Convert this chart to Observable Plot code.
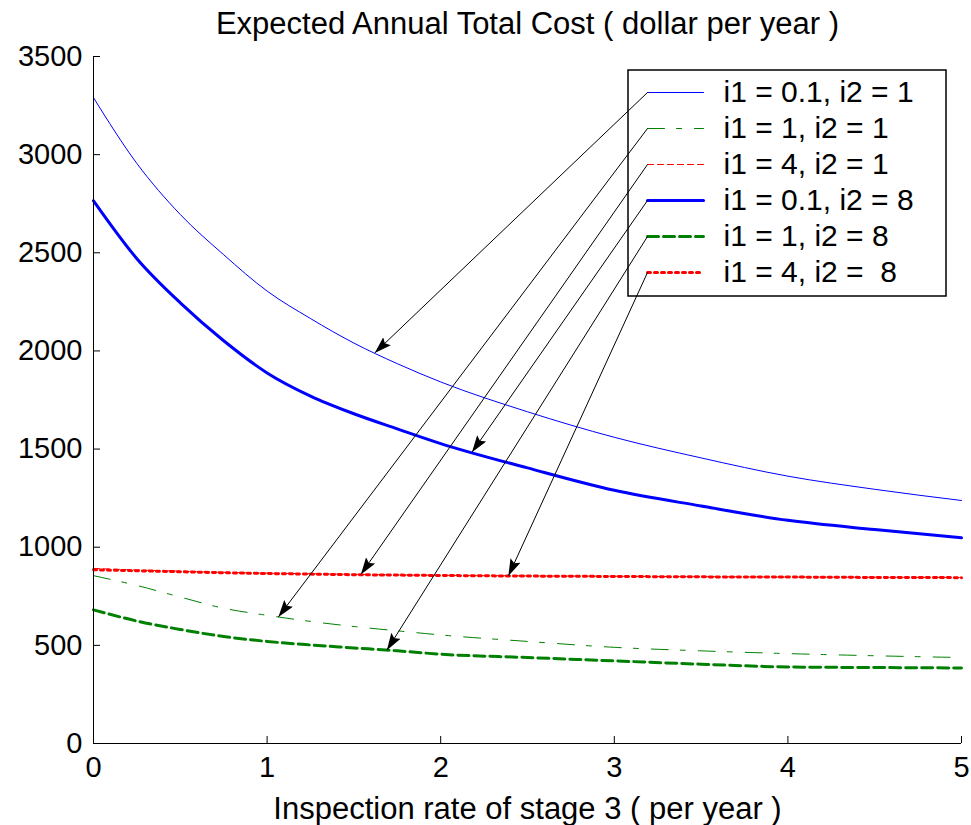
<!DOCTYPE html>
<html><head><meta charset="utf-8">
<script src="https://cdn.jsdelivr.net/npm/d3@7"></script>
<script src="https://cdn.jsdelivr.net/npm/@observablehq/plot@0.6"></script>
<style>body{margin:0;background:#fff} svg{display:block}</style>
</head><body><div id="chart"></div>
<script>
// ---- data ----
const xValues = [0, 0.25, 0.5, 0.75, 1, 1.25, 1.5, 1.75, 2, 2.5, 3, 3.5, 4, 4.5, 5];
const seriesLabels = ["i1 = 0.1, i2 = 1", "i1 = 1, i2 = 1", "i1 = 4, i2 = 1",
                      "i1 = 0.1, i2 = 8", "i1 = 1, i2 = 8", "i1 = 4, i2 =  8"];
const cost_i01_i21 = [3290, 2955, 2695, 2490, 2305, 2165, 2040, 1935, 1842, 1690, 1560, 1455, 1362, 1295, 1238];
const cost_i1_i21  = [855, 805, 746, 689, 653, 622, 596, 574, 553, 520, 490, 472, 458, 447, 438];
const cost_i4_i21  = [892, 884, 878, 872, 868, 865, 862, 859, 857, 854, 852, 850, 848, 847, 846];
const cost_i01_i28 = [2765, 2470, 2245, 2052, 1888, 1770, 1680, 1603, 1528, 1404, 1290, 1210, 1137, 1090, 1048];
const cost_i1_i28  = [681, 624, 581, 545, 520, 502, 487, 472, 455, 438, 421, 404, 390, 387, 385];
const cost_i4_i28  = [885, 880, 875, 870, 866, 863, 860, 858, 856, 853, 851, 849, 848, 846, 845];
const arrowTargetX = [1.62, 1.065, 1.54, 2.18, 1.69, 2.39];
const xTicks = [0, 1, 2, 3, 4, 5];
const yTicks = [0, 500, 1000, 1500, 2000, 2500, 3000, 3500];
const titleText = "Expected Annual Total Cost ( dollar per year )";
const xLabelText = "Inspection rate of stage 3 ( per year )";

// ---- styles ----
const seriesValues = [cost_i01_i21, cost_i1_i21, cost_i4_i21, cost_i01_i28, cost_i1_i28, cost_i4_i28];
const styles = [
  {stroke: "#0000ff", strokeWidth: 1, strokeDasharray: null},
  {stroke: "#008000", strokeWidth: 1, strokeDasharray: "17,12,5,13"},
  {stroke: "#ff0000", strokeWidth: 1, strokeDasharray: "6,4"},
  {stroke: "#0000ff", strokeWidth: 3, strokeDasharray: null},
  {stroke: "#008000", strokeWidth: 3, strokeDasharray: "11,5"},
  {stroke: "#ff0000", strokeWidth: 3, strokeDasharray: "3,4"}
];

// ---- layout ----
const W = 971, H = 825;
const M = {top: 56, right: 10, bottom: 82, left: 93};
const xDomain = [0, 5], yDomain = [0, 3500];
const xPix = d3.scaleLinear(xDomain, [M.left, W - M.right]);
const yPix = d3.scaleLinear(yDomain, [H - M.bottom, M.top]);
const lx = px => xPix.invert(px), ly = py => yPix.invert(py);
const LEG = {left: 628, top: 70, right: 946, bottom: 296, s1: 647, s2: 703, tx: 723, row0: 92, step: 36};
const rowY = i => LEG.row0 + i * LEG.step;
const TICK = 7;

const font = "Liberation Sans, Arial, Helvetica, sans-serif";

const lineMarks = seriesValues.map((vals, i) =>
  Plot.line(xValues.map((x, j) => ({x, y: vals[j]})), {x: "x", y: "y", curve: "monotone-x", ...styles[i]})
);
const legendBox = Plot.rect([0], {x1: () => lx(LEG.left), x2: () => lx(LEG.right), y1: () => ly(LEG.top), y2: () => ly(LEG.bottom), fill: "white", stroke: "black", strokeWidth: 1.5});
const legendSamples = styles.map((s, i) =>
  Plot.line([{x: lx(LEG.s1), y: ly(rowY(i))}, {x: lx(LEG.s2), y: ly(rowY(i))}], {x: "x", y: "y", ...s})
);
const legendText = Plot.text(seriesLabels, {x: () => lx(LEG.tx), y: (d, i) => ly(rowY(i)), text: d => d, textAnchor: "start", lineAnchor: "middle", fontSize: 30, fill: "black"});

const arrows = seriesValues.map((vals, i) => {
  const interp = d3.scaleLinear(xValues, vals);
  return {x1: lx(LEG.s1), y1: ly(rowY(i)), x2: arrowTargetX[i], y2: interp(arrowTargetX[i])};
});

const plot = Plot.plot({
  width: W, height: H,
  marginTop: M.top, marginRight: M.right, marginBottom: M.bottom, marginLeft: M.left,
  x: {domain: xDomain},
  y: {domain: yDomain},
  style: {fontFamily: font, background: "white", color: "black"},
  marks: [
    ...lineMarks,
    Plot.ruleX([0], {stroke: "black", strokeWidth: 1}),
    Plot.ruleY([0], {stroke: "black", strokeWidth: 1}),
    // inward tick marks
    Plot.ruleX(xTicks, {x: d => d, y1: 0, y2: ly(H - M.bottom - TICK), stroke: "black", strokeWidth: 1}),
    Plot.ruleY(yTicks, {y: d => d, x1: 0, x2: lx(M.left + TICK), stroke: "black", strokeWidth: 1}),
    Plot.axisX({ticks: xTicks, tickSize: 0, tickPadding: 13, fontSize: 29, tickFormat: d => String(d), label: null}),
    Plot.axisY({ticks: yTicks, tickSize: 0, tickPadding: 11, fontSize: 29, tickFormat: d => String(d), label: null}),
    legendBox,
    ...legendSamples,
    legendText,
    Plot.link(arrows, {x1: "x1", y1: "y1", x2: "x2", y2: "y2", stroke: "black", strokeWidth: 1}),
    Plot.text([titleText], {frameAnchor: "top", lineAnchor: "bottom", dy: -23, fontSize: 31, fill: "black", text: d => d}),
    Plot.text([xLabelText], {frameAnchor: "bottom", lineAnchor: "bottom", dy: 75, fontSize: 31, fill: "black", text: d => d})
  ]
});

// filled arrow heads
const svg = d3.select(plot);
svg.insert("defs", ":first-child").append("marker")
  .attr("id", "ahead").attr("viewBox", "0 0 17 11").attr("refX", 17).attr("refY", 5.5)
  .attr("markerWidth", 17).attr("markerHeight", 11).attr("markerUnits", "userSpaceOnUse").attr("orient", "auto")
  .append("path").attr("d", "M0,0L17,5.5L0,11L3,5.5Z").attr("fill", "black");
svg.selectAll('g[aria-label="link"] path').attr("marker-end", "url(#ahead)");

document.getElementById("chart").appendChild(plot);
</script>
</body></html>
